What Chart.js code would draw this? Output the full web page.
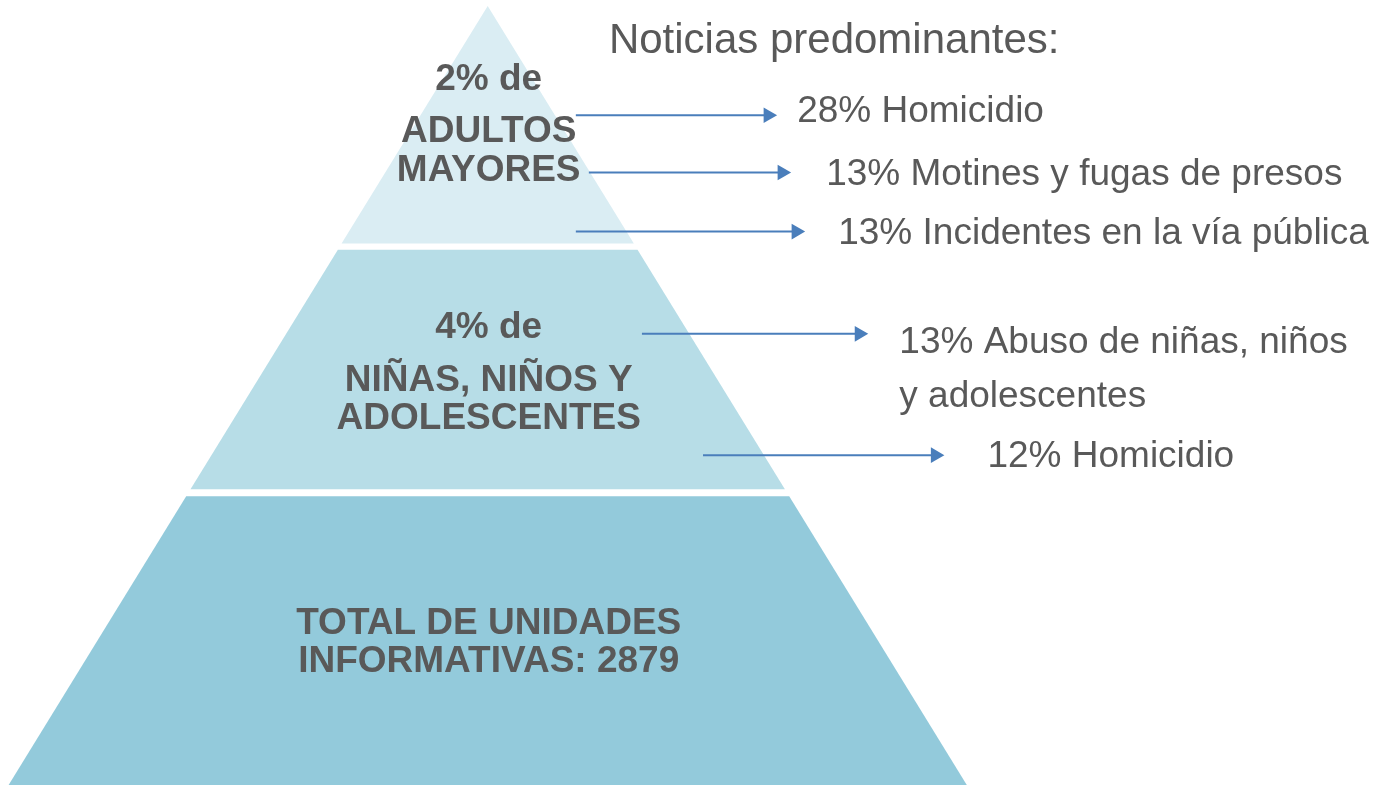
<!DOCTYPE html>
<html>
<head>
<meta charset="utf-8">
<script src="https://cdn.jsdelivr.net/npm/chart.js@4"></script>
<style>
  html, body { margin: 0; padding: 0; background: #fff; }
  #wrap { width: 1381px; height: 785px; }
</style>
</head>
<body>
<div id="wrap"><canvas id="chart" width="1381" height="785"></canvas></div>
<script>
// data: pyramid tiers, top to bottom
const groupShare = [2, 4, null];
const groupNames = [
  ['ADULTOS', 'MAYORES'],
  ['NIÑAS, NIÑOS Y', 'ADOLESCENTES'],
  ['TOTAL DE UNIDADES', 'INFORMATIVAS:']
];
const totalUnits = 2879;
const tierColors = ['#DAEDF3', '#B7DDE7', '#93CADB'];

// predominant news per group
const newsTitle = 'Noticias predominantes:';
const newsShare = [28, 13, 13, 13, 12];
const newsTopic = [
  ['Homicidio'],
  ['Motines y fugas de presos'],
  ['Incidentes en la vía pública'],
  ['Abuso de niñas, niños', 'y adolescentes'],
  ['Homicidio']
];

// layout (chart units = pixels of the 1381x785 canvas)
const apex = { x: 488, y: 7 };
const slope = 0.6157;           // half width per unit of height
const tierTop = [7, 250, 496];
const tierBottom = [244, 489, 800];
const groupBaselines = [[91, 143, 182], [338, 391, 429], [633, 671]];
const arrows = [
  { from: 576, to: 777, y: 116 },
  { from: 589, to: 791, y: 173 },
  { from: 576, to: 805, y: 232 },
  { from: 642, to: 868, y: 334 },
  { from: 703, to: 944, y: 455 }
];
const headR = 9;
const newsX = [797, 826, 838, 899, 987];
const newsBaselines = [[123], [186], [244], [353, 407], [467]];

const textColor = '#595959';
const arrowColor = '#4A7EBB';
const fontFamily = '"Liberation Sans", Arial, sans-serif';

function halfWidth(y) { return (y - apex.y) * slope; }

const tierSets = tierTop.map((top, i) => {
  const bot = tierBottom[i];
  return {
    data: [
      { x: apex.x - halfWidth(top), y: top },
      { x: apex.x + halfWidth(top), y: top },
      { x: apex.x + halfWidth(bot), y: bot },
      { x: apex.x - halfWidth(bot), y: bot },
      { x: apex.x - halfWidth(top), y: top }
    ],
    showLine: true,
    fill: 'shape',
    backgroundColor: tierColors[i],
    borderColor: 'rgba(0,0,0,0)',
    borderWidth: 0,
    pointRadius: 0,
    pointBorderWidth: 0,
    tension: 0
  };
});

// arrow head sits on a middle point so it does not add layout padding
const arrowSets = arrows.map(a => ({
  data: [{ x: a.from, y: a.y }, { x: a.to - headR, y: a.y }, { x: a.to - headR, y: a.y }],
  showLine: true,
  fill: false,
  borderColor: arrowColor,
  borderWidth: 2,
  pointRadius: [0, headR, 0],
  pointStyle: 'triangle',
  pointRotation: 90,
  pointBackgroundColor: arrowColor,
  pointBorderWidth: 0,
  pointBorderColor: arrowColor
}));

const textPlugin = {
  id: 'pyramidText',
  afterDatasetsDraw(chart) {
    const { ctx, scales: { x, y } } = chart;
    ctx.save();
    ctx.fillStyle = textColor;
    ctx.textBaseline = 'alphabetic';

    // group labels inside the pyramid
    ctx.font = 'bold 37px ' + fontFamily;
    ctx.textAlign = 'center';
    groupNames.forEach((names, i) => {
      let lines = names.slice();
      if (groupShare[i] != null) lines.unshift(groupShare[i] + '% de');
      else lines[lines.length - 1] += ' ' + totalUnits;
      lines.forEach((t, j) => {
        ctx.fillText(t, x.getPixelForValue(apex.x + 1), y.getPixelForValue(groupBaselines[i][j]));
      });
    });

    // title + news list
    ctx.textAlign = 'left';
    ctx.font = '42px ' + fontFamily;
    ctx.fillText(newsTitle, x.getPixelForValue(609), y.getPixelForValue(54));
    ctx.font = '37px ' + fontFamily;
    newsTopic.forEach((lines, i) => {
      lines.forEach((t, j) => {
        const txt = j === 0 ? newsShare[i] + '% ' + t : t;
        ctx.fillText(txt, x.getPixelForValue(newsX[i]), y.getPixelForValue(newsBaselines[i][j]));
      });
    });
    ctx.restore();
  }
};

// chart area is inset by 1px (half the arrow line width), so the
// scale range is shifted to keep 1 unit = 1 pixel
new Chart(document.getElementById('chart'), {
  type: 'scatter',
  data: { datasets: arrowSets.concat(tierSets) },
  options: {
    responsive: false,
    animation: false,
    layout: { padding: 0 },
    plugins: { legend: { display: false }, tooltip: { enabled: false } },
    scales: {
      x: { type: 'linear', min: 1, max: 1380, display: false },
      y: { type: 'linear', min: 1, max: 784, reverse: true, display: false }
    }
  },
  plugins: [textPlugin]
});
</script>
</body>
</html>
